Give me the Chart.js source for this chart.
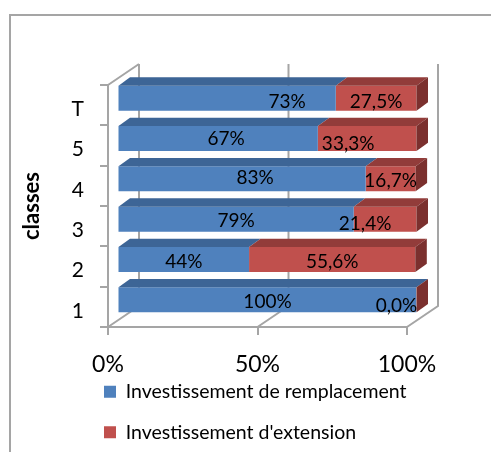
<!DOCTYPE html>
<html>
<head>
<meta charset="utf-8">
<script src="https://cdn.jsdelivr.net/npm/chart.js@4/dist/chart.umd.min.js"></script>
<style>
  html, body { margin: 0; padding: 0; background: #fff; }
  #wrap { position: relative; width: 491px; height: 452px; overflow: hidden; }
  #frame { position: absolute; left: 9px; top: 14px; width: 600px; height: 600px;
           border-left: 2px solid #a5a5a5; border-top: 2px solid #a5a5a5; }
  #chart { position: absolute; left: 0; top: 0; }
</style>
</head>
<body>
<div id="wrap">
  <div id="frame"></div>
  <canvas id="chart" width="491" height="452"></canvas>
</div>
<script>
const classes = ['1', '2', '3', '4', '5', 'T'];
const remplacement = [100, 44, 79, 83, 67, 73];
const extension = [0.0, 55.6, 21.4, 16.7, 33.3, 27.5];
const seriesNames = ['Investissement de remplacement', "Investissement d'extension"];
const xTicks = [0, 50, 100];

const GRID = '#a5a5a5';
const FONT = 'Lato';
const WALL = { dx: 31, dy: -21 };      // back wall sits this far behind the axes
const SHIFT = { dx: 9.5, dy: -7 };     // front face of the bars
const DEPTH = { dx: 11.5, dy: -8.3 };  // bar thickness
const FACES = [
    { top: '#3d6596', side: '#375a87' },
    { top: '#923c3a', side: '#7b302e' }
];
const LEGEND_POS = { left: 83, top: 361, height: 91 };
// a few labels were moved by hand so they don't crowd: [dx, dy]
const labelNudge = {
    'T:0': [60, 2], 'T:1': [0, 2],
    '5:0': [8, -2], '4:0': [13, -3],
    '5:1': [-19, 3], '3:1': [-20, 3], '1:1': [-20, 4]
};

const fmt = (v, di) => di === 0 ? Math.round(v) + '%' : v.toFixed(1).replace('.', ',') + '%';

const box3d = {
    id: 'box3d',
    afterLayout(chart) {
        // legend sits indented under the plot, not at the canvas edge
        const lg = chart.legend;
        const dx = LEGEND_POS.left - lg.left;
        lg.left += dx;
        lg.right += dx;
        lg.top = LEGEND_POS.top;
        lg.height = LEGEND_POS.height;
        lg.bottom = lg.top + lg.height;
    },
    beforeDatasetsDraw(chart) {
        const { ctx, chartArea: a, scales: { x } } = chart;
        ctx.save();
        ctx.strokeStyle = GRID;
        ctx.lineWidth = 2;
        ctx.beginPath();
        xTicks.forEach(v => {
            const px = x.getPixelForValue(v);
            ctx.moveTo(px, a.bottom);
            ctx.lineTo(px + WALL.dx, a.bottom + WALL.dy);
            ctx.lineTo(px + WALL.dx, a.top + WALL.dy);
        });
        ctx.moveTo(a.left, a.top);
        ctx.lineTo(a.left + WALL.dx, a.top + WALL.dy);
        ctx.stroke();
        ctx.restore();

        // bars go a bit deeper than the axis plane
        ctx.save();
        ctx.translate(SHIFT.dx, SHIFT.dy);
    },
    afterDatasetsDraw(chart) {
        const { ctx, chartArea: a } = chart;
        const last = chart.data.datasets.length - 1;

        chart.data.datasets.forEach((ds, di) => {
            chart.getDatasetMeta(di).data.forEach(bar => {
                const { x, y, base, height } = bar.getProps(['x', 'y', 'base', 'height'], true);
                const l = Math.min(base, x);
                const r = Math.min(Math.max(base, x), a.right);
                const t = y - height / 2, b = y + height / 2;

                ctx.fillStyle = FACES[di].top;
                ctx.beginPath();
                ctx.moveTo(l, t);
                ctx.lineTo(r, t);
                ctx.lineTo(r + DEPTH.dx, t + DEPTH.dy);
                ctx.lineTo(l + DEPTH.dx, t + DEPTH.dy);
                ctx.closePath();
                ctx.fill();

                if (di === last) {
                    ctx.fillStyle = FACES[di].side;
                    ctx.beginPath();
                    ctx.moveTo(r, t);
                    ctx.lineTo(r + DEPTH.dx, t + DEPTH.dy);
                    ctx.lineTo(r + DEPTH.dx, b + DEPTH.dy);
                    ctx.lineTo(r, b);
                    ctx.closePath();
                    ctx.fill();
                }
            });
        });

        ctx.font = `19px ${FONT}`;
        ctx.fillStyle = '#000';
        ctx.textAlign = 'center';
        ctx.textBaseline = 'middle';
        chart.data.datasets.forEach((ds, di) => {
            chart.getDatasetMeta(di).data.forEach((bar, i) => {
                const { x, y, base } = bar.getProps(['x', 'y', 'base'], true);
                const l = Math.min(base, x);
                const r = Math.min(Math.max(base, x), a.right);
                const [nx, ny] = labelNudge[classes[i] + ':' + di] || [0, 0];
                ctx.fillText(fmt(ds.data[i], di), (l + r) / 2 + nx, y + 2 + ny);
            });
        });
        ctx.restore();
    }
};

new Chart(document.getElementById('chart'), {
    type: 'bar',
    data: {
        labels: classes,
        datasets: [
            { label: seriesNames[0], data: remplacement, backgroundColor: '#4f81bd' },
            { label: seriesNames[1], data: extension, backgroundColor: '#c0504d' }
        ]
    },
    options: {
        indexAxis: 'y',
        responsive: false,
        animation: false,
        barPercentage: 0.62,
        categoryPercentage: 1,
        layout: { padding: { left: 0, top: 85, right: 84, bottom: 0 } },
        plugins: {
            tooltip: { enabled: false },
            legend: {
                position: 'bottom',
                align: 'start',
                maxHeight: 73,
                labels: {
                    boxWidth: 12, boxHeight: 12, padding: 21,
                    color: '#000', font: { family: FONT, size: 19.5 }
                }
            }
        },
        scales: {
            x: {
                stacked: true, min: 0, max: 100,
                afterFit: s => { s.height = 52; },
                ticks: { stepSize: 50, maxRotation: 0, padding: 16, color: '#000',
                         font: { family: FONT, size: 23 }, callback: v => v + '%' },
                grid: { drawOnChartArea: false, tickLength: 8, color: GRID, lineWidth: 2 },
                border: { color: GRID, width: 2 }
            },
            y: {
                stacked: true, reverse: true,
                afterFit: s => { s.width = 108; },
                title: { display: true, text: 'classes', color: '#000',
                         font: { family: FONT, size: 22, weight: 'bold' }, padding: { top: 19 } },
                ticks: { padding: 16, labelOffset: 4, color: '#000', font: { family: FONT, size: 21 } },
                grid: { drawOnChartArea: false, offset: true, tickLength: 8, color: GRID, lineWidth: 2 },
                border: { color: GRID, width: 2 }
            }
        }
    },
    plugins: [box3d]
});
</script>
</body>
</html>
